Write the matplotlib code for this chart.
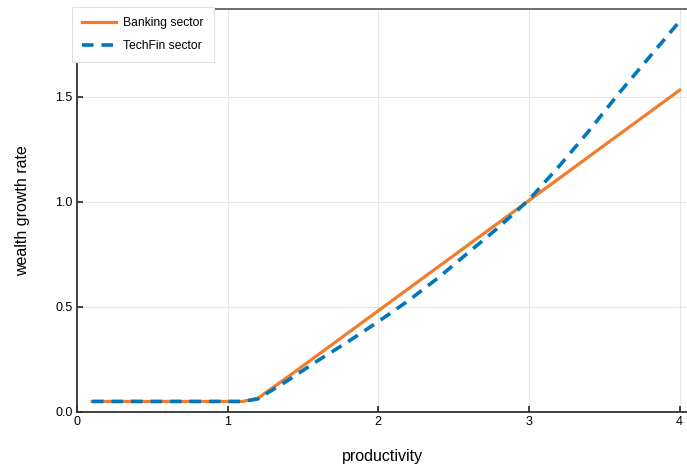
import numpy as np
import matplotlib.pyplot as plt

plt.rcParams['font.family'] = ['Liberation Sans', 'DejaVu Sans']

# productivity grid and wealth growth rates
productivity = [0.1, 1.1, 1.2, 1.4, 1.6, 1.8, 2.0, 2.2, 2.4, 2.6, 2.8, 3.0, 3.2, 3.4, 3.6, 3.8, 4.0]
banking = [0.05, 0.05, 0.065, 0.167, 0.272, 0.377, 0.482, 0.587, 0.692, 0.797, 0.902, 1.007, 1.112, 1.217, 1.322, 1.427, 1.532]
techfin = [0.05, 0.05, 0.062, 0.15, 0.245, 0.335, 0.43, 0.53, 0.64, 0.76, 0.88, 1.01, 1.17, 1.34, 1.52, 1.69, 1.86]

fig = plt.figure(figsize=(6.87, 4.66), dpi=100)
ax = fig.add_axes([0.112, 0.116, 0.8905, 0.865])

ax.plot(productivity, banking, color='#F07C2E', lw=2.3, label='Banking sector', zorder=3)
ax.plot(productivity, techfin, color='#0077BB', lw=2.6, ls=(0, (3.2, 2.2)), label='TechFin sector', zorder=4)

ax.set_xlim(0, 4.06)
ax.set_ylim(0, 1.919)
ax.set_xticks([0, 1, 2, 3, 4])
ax.set_yticks([0.0, 0.5, 1.0, 1.5])
ax.set_yticklabels(['0.0', '0.5', '1.0', '1.5'])
ax.grid(True, color='#e6e6e6', lw=0.8)
ax.set_axisbelow(True)

ax.tick_params(direction='in', length=4, width=1.2, labelsize=9, color='#222222', pad=3)
for s in ['left', 'bottom']:
    ax.spines[s].set_linewidth(1.3)
    ax.spines[s].set_color('#333333')
ax.spines['top'].set_linewidth(1.2)
ax.spines['top'].set_color('#555555')
ax.spines['right'].set_visible(False)

ax.set_xlabel('productivity', fontsize=11.5, labelpad=15)
ax.set_ylabel('wealth growth rate', fontsize=11.5, labelpad=18)

leg = ax.legend(loc='upper left', bbox_to_anchor=(-0.008, 1.005), borderaxespad=0, fontsize=8.7,
                frameon=True, fancybox=False, edgecolor='#e0e0e0', framealpha=1,
                handlelength=2.8, handletextpad=0.6, borderpad=0.85, labelspacing=0.9)
leg.get_frame().set_linewidth(0.8)
leg.set_zorder(10)

fig.savefig('out.png', dpi=100)
